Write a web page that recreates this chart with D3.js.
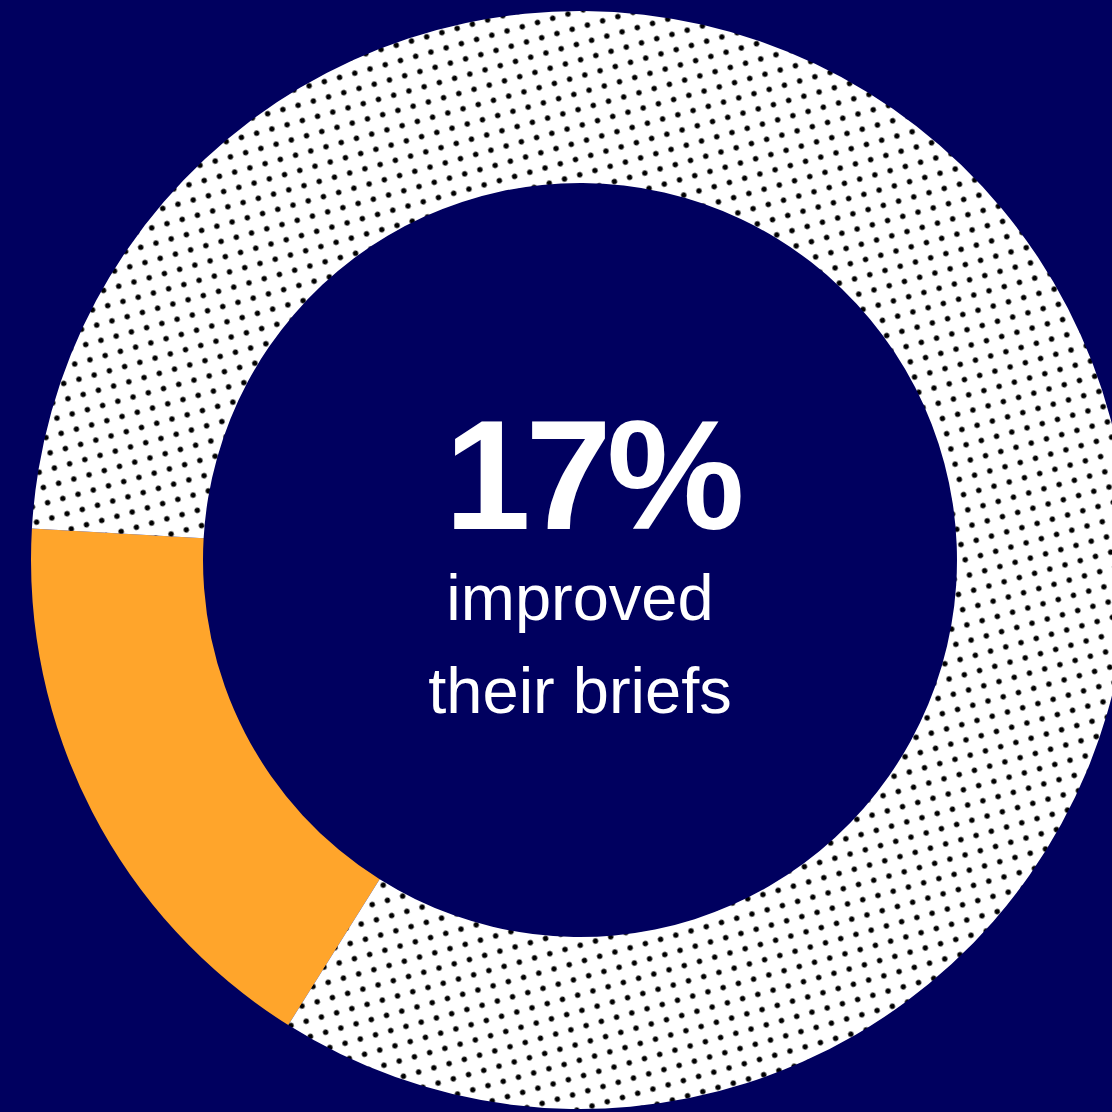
<!DOCTYPE html>
<html>
<head>
<meta charset="utf-8">
<script src="https://cdn.jsdelivr.net/npm/d3@7"></script>
<style>
  html, body { margin: 0; padding: 0; background: #00005f; }
  svg { display: block; }
</style>
</head>
<body>
<div id="chart"></div>
<script>
// data
var segments = ["improved", "other"];
var shares = [17, 83];
var headline = "17%";
var caption = ["improved", "their briefs"];

(function() {
  let width = 1112, height = 1112;
  let cx = 580, cy = 560;
  let rOuter = 549, rInner = 377;

  let svg = d3.select("#chart").append("svg")
    .attr("width", width)
    .attr("height", height);

  svg.append("rect")
    .attr("width", width)
    .attr("height", height)
    .attr("fill", "#00005f");

  // dotted fill for the rest of the ring
  let defs = svg.append("defs");
  let pat = defs.append("pattern")
    .attr("id", "dots")
    .attr("patternUnits", "userSpaceOnUse")
    .attr("width", 15.8)
    .attr("height", 15.8)
    .attr("patternTransform", "rotate(-15.5)");
  pat.append("rect")
    .attr("width", 15.8)
    .attr("height", 15.8)
    .attr("fill", "#ffffff");
  pat.append("circle")
    .attr("cx", 7.9)
    .attr("cy", 7.9)
    .attr("r", 2.7)
    .attr("fill", "#000000");

  let start = 212.1 * Math.PI / 180;
  let pie = d3.pie()
    .sort(null)
    .startAngle(start)
    .endAngle(start + 2 * Math.PI);

  let arc = d3.arc()
    .innerRadius(rInner)
    .outerRadius(rOuter);

  let color = d3.scaleOrdinal()
    .domain(segments)
    .range(["#ffa52b", "url(#dots)"]);

  let g = svg.append("g")
    .attr("transform", "translate(" + cx + "," + cy + ")");

  g.selectAll(".slice")
    .data(pie(shares))
    .enter().append("path")
      .attr("class", "slice")
      .attr("d", arc)
      .attr("fill", (d, i) => color(segments[i]));

  g.append("text")
    .attr("x", 12)
    .attr("y", -31)
    .attr("text-anchor", "middle")
    .attr("fill", "#ffffff")
    .style("font-family", "'Liberation Sans', Arial, sans-serif")
    .style("font-weight", "bold")
    .style("font-size", "155px")
    .style("letter-spacing", "-5px")
    .text(headline);

  g.selectAll(".caption")
    .data(caption)
    .enter().append("text")
      .attr("class", "caption")
      .attr("x", 0)
      .attr("y", (d, i) => 60 + i * 93)
      .attr("text-anchor", "middle")
      .attr("fill", "#ffffff")
      .style("font-family", "'Liberation Sans', Arial, sans-serif")
      .style("font-size", "65px")
      .text(d => d);
})();
</script>
</body>
</html>
